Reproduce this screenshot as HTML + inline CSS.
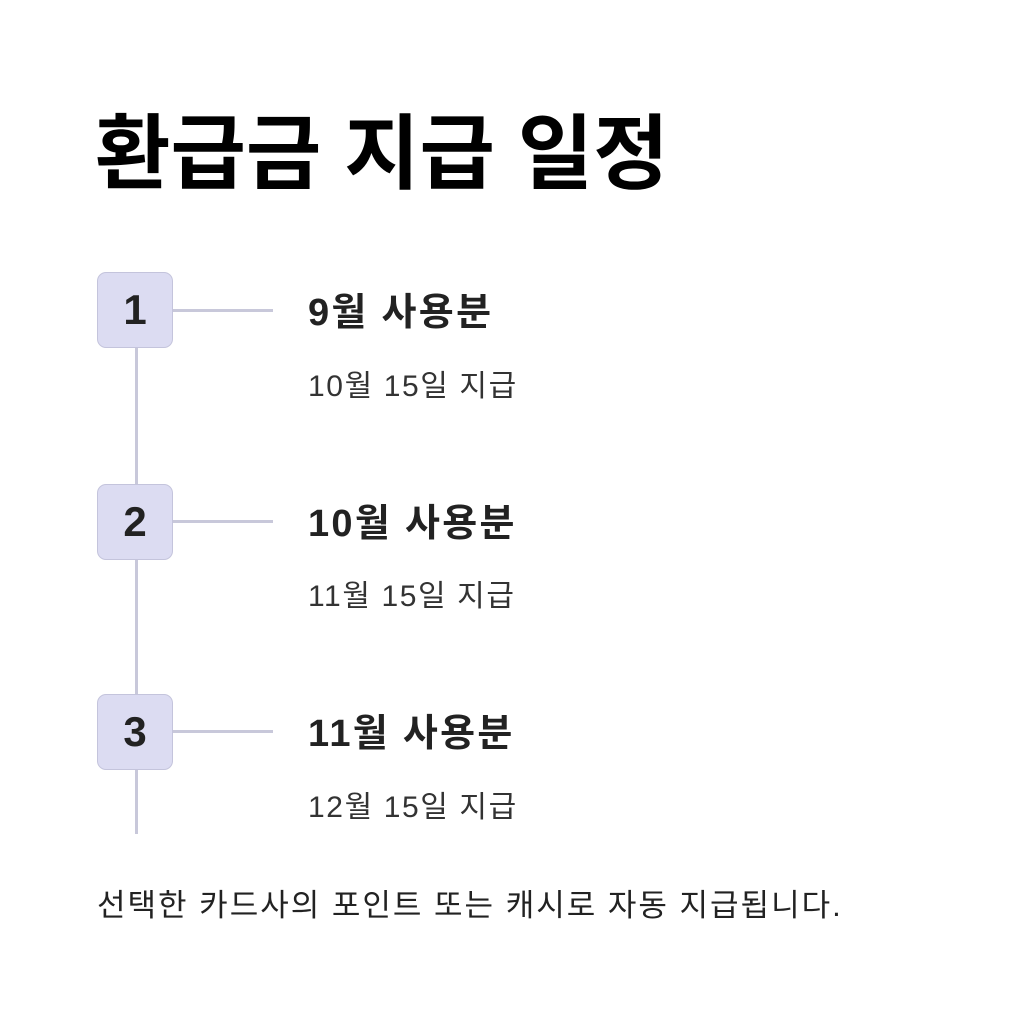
<!DOCTYPE html>
<html><head><meta charset="utf-8"><style>
body{margin:0;width:1021px;height:1024px;background:#fff;position:relative;font-family:"Liberation Sans","Noto Sans CJK KR",sans-serif;color:#222;overflow:hidden}
.t{position:absolute;white-space:nowrap}
.box{position:absolute;left:97px;width:76px;height:76px;background:#dcdcf2;border:1.5px solid #c4c4dc;border-radius:9px;box-sizing:border-box;font-weight:bold;font-size:42px;text-align:center;line-height:74px;color:#222}
.v{position:absolute;left:135px;width:3px;background:#c8c8da}
.h{position:absolute;left:172px;width:101px;height:3px;background:#c8c8da}
.hd{font-weight:bold;font-size:38px;left:308px;letter-spacing:2.3px;line-height:46px}
.sb{font-size:30px;left:308px;color:#333;letter-spacing:1.6px;line-height:36px}
</style></head><body>
<div class="t" style="left:95px;top:100px;font-size:82px;font-weight:bold;color:#000;line-height:110px">환급금 지급 일정</div>
<div class="v" style="top:348px;height:136px"></div>
<div class="v" style="top:559px;height:135px"></div>
<div class="v" style="top:770px;height:64px"></div>
<div class="h" style="top:309px"></div>
<div class="h" style="top:520px"></div>
<div class="h" style="top:730px"></div>
<div class="box" style="top:272px">1</div>
<div class="box" style="top:484px">2</div>
<div class="box" style="top:694px">3</div>
<div class="t hd" style="top:290px">9월 사용분</div>
<div class="t sb" style="top:369px">10월 15일 지급</div>
<div class="t hd" style="top:501px">10월 사용분</div>
<div class="t sb" style="top:579px">11월 15일 지급</div>
<div class="t hd" style="top:711px">11월 사용분</div>
<div class="t sb" style="top:790px">12월 15일 지급</div>
<div class="t" style="left:97px;top:887px;font-size:31px;letter-spacing:2px;color:#222;line-height:38px">선택한 카드사의 포인트 또는 캐시로 자동 지급됩니다.</div>
</body></html>
